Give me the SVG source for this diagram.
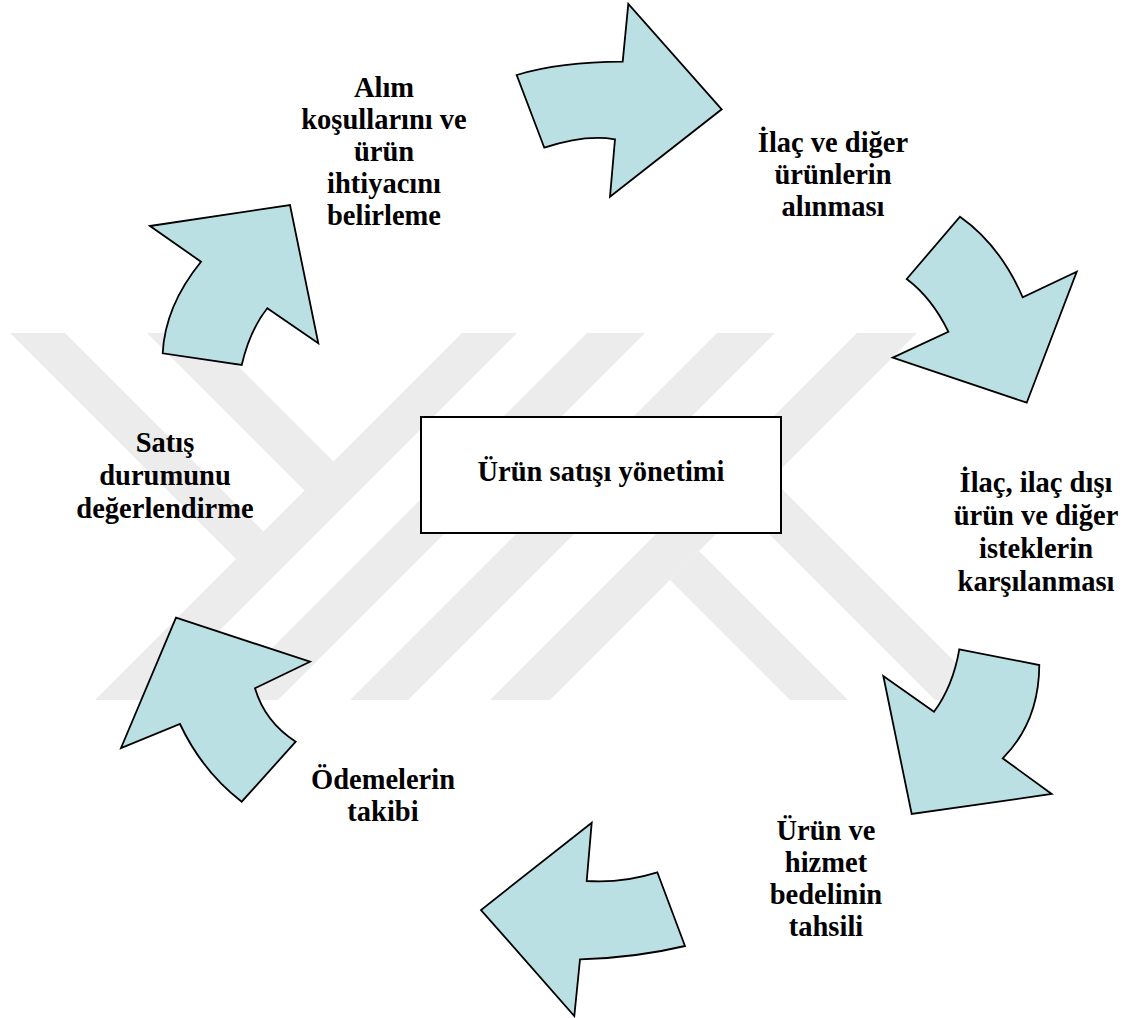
<svg xmlns="http://www.w3.org/2000/svg" width="1131" height="1018" viewBox="0 0 1131 1018">
<style>
.wm{fill:#ececec;stroke:none}
.arrow{fill:#bbe0e3;stroke:#000;stroke-width:1.8;stroke-linejoin:miter}
.lbl{font-family:"Liberation Serif","Times New Roman",serif;font-weight:bold;font-size:28.5px;fill:#000;text-anchor:middle}
.box{fill:#fff;stroke:#000;stroke-width:2}
</style>
<rect width="1131" height="1018" fill="#fff"/>
<g id="watermark">
<polygon class="wm" points="10,333 65,333 263.5,531.5 236,559"/>
<polygon class="wm" points="462,333 517,333 150,700 95,700"/>
<polygon class="wm" points="147,333 205,333 333.5,461.5 304.5,490.5"/>
<polygon class="wm" points="587,333 645,333 278,700 220,700"/>
<polygon class="wm" points="717,333 775,333 408,700 350,700"/>
<polygon class="wm" points="857,333 917,333 550,700 490,700"/>
<polygon class="wm" points="670,580 699,551 848,700 790,700"/>
<polygon class="wm" points="742.5,507.5 771.5,478.5 993,700 935,700"/>
</g>
<g id="connectors">
<path id="arrow1" class="arrow" d="M516.7,75 Q560,62 622.7,61.7 L628.3,4 L721.7,109.3 L610,196.7 L615,139.3 Q585,134 544.3,147.7 Z"/>
<path id="arrow2" class="arrow" d="M960,216.7 Q1000,245 1022.7,297.3 L1076.7,271.7 L1026.7,402.7 L892.7,357.7 L948.3,331.7 Q932,298 906.7,279 Z"/>
<path id="arrow3" class="arrow" d="M959.3,649.3 L1039.3,665 Q1039,722 1002.7,758.3 L1051.7,794 L911.7,814 L883.3,676 L934,711.7 Q953,686 959.3,649.3 Z"/>
<path id="arrow4" class="arrow" d="M657.3,872.3 L685,946 Q635,958 580,959.3 L574.3,1016 L481,910 L591.7,822.7 L586.7,881 Q622,883.4 657.3,872.3 Z"/>
<path id="arrow5" class="arrow" d="M176,617.7 L310,661.7 L255,688.3 Q265,722 295.7,741.7 L241.7,801.7 Q202,771 180,724 L121,748 Z"/>
<path id="arrow6" class="arrow" d="M150,226 L290,205 L318.3,343.3 L267.3,308.3 Q250,330 241.7,365 L162.7,353.3 Q165,306 201,261.7 Z"/>
</g>
<g id="center">
<rect class="box" x="421" y="417" width="360" height="116"/>
<text class="lbl" x="601" y="481">Ürün satışı yönetimi</text>
</g>
<g id="step1">
<text class="lbl"><tspan x="384" y="97">Alım</tspan><tspan x="384" y="129">koşullarını ve</tspan><tspan x="384" y="161">ürün</tspan><tspan x="384" y="193">ihtiyacını</tspan><tspan x="384" y="225">belirleme</tspan></text>
</g>
<g id="step2">
<text class="lbl"><tspan x="833" y="152">İlaç ve diğer</tspan><tspan x="833" y="184">ürünlerin</tspan><tspan x="833" y="216">alınması</tspan></text>
</g>
<g id="step3">
<text class="lbl"><tspan x="1036" y="492">İlaç, ilaç dışı</tspan><tspan x="1036" y="525">ürün ve diğer</tspan><tspan x="1036" y="558">isteklerin</tspan><tspan x="1036" y="591">karşılanması</tspan></text>
</g>
<g id="step4">
<text class="lbl"><tspan x="826" y="840">Ürün ve</tspan><tspan x="826" y="872">hizmet</tspan><tspan x="826" y="904">bedelinin</tspan><tspan x="826" y="936">tahsili</tspan></text>
</g>
<g id="step5">
<text class="lbl"><tspan x="383" y="789">Ödemelerin</tspan><tspan x="383" y="821">takibi</tspan></text>
</g>
<g id="step6">
<text class="lbl"><tspan x="165" y="452">Satış</tspan><tspan x="165" y="485">durumunu</tspan><tspan x="165" y="518">değerlendirme</tspan></text>
</g>
</svg>
